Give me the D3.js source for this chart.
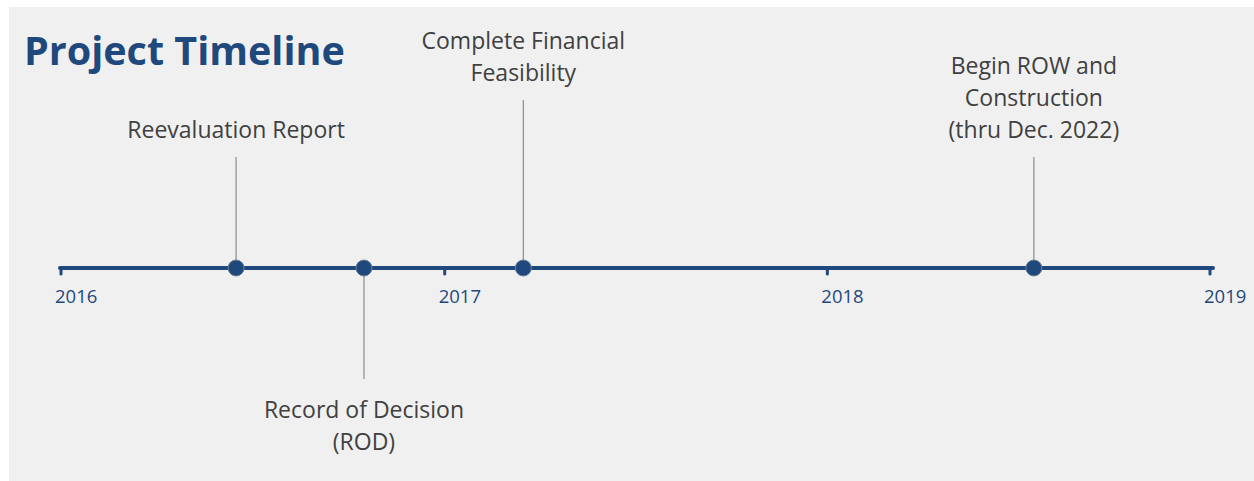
<!DOCTYPE html>
<html>
<head>
<meta charset="utf-8">
<script src="https://cdnjs.cloudflare.com/ajax/libs/d3/7.8.5/d3.min.js"></script>
<style>
  body { margin: 0; background: #fff; }
  svg { display: block; }
</style>
</head>
<body>
<script>
const width = 1254, height = 481;

// data
const title = "Project Timeline";
const years = [2016, 2017, 2018, 2019];
const eventDates = ["2016-06-16", "2016-10-16", "2017-03-17", "2018-07-17"];
const eventLabels = [
  ["Reevaluation Report"],
  ["Record of Decision", "(ROD)"],
  ["Complete Financial", "Feasibility"],
  ["Begin ROW and", "Construction", "(thru Dec. 2022)"]
];
const eventSide = ["up", "down", "up", "up"];
const stemLength = [105, 105, 162, 105];

const blue = "#1f497d";
const font = "'Open Sans', sans-serif";

const svg = d3.select("body").append("svg")
  .attr("width", width)
  .attr("height", height);

svg.append("rect")
  .attr("x", 9).attr("y", 7)
  .attr("width", width - 9).attr("height", height - 7)
  .attr("fill", "#f0f0f0");

svg.append("text")
  .attr("x", 24).attr("y", 65)
  .attr("fill", blue)
  .style("font-family", font)
  .style("font-weight", "bold")
  .style("font-size", "39.5px")
  .text(title);

const axisY = 268;
const x = d3.scaleTime()
  .domain([new Date(years[0], 0, 1), new Date(years[years.length - 1], 0, 1)])
  .range([61, 1210]);

// main line
svg.append("line")
  .attr("x1", x.range()[0] - 1).attr("x2", x.range()[1] + 3)
  .attr("y1", axisY).attr("y2", axisY)
  .attr("stroke", blue).attr("stroke-width", 4)
  .attr("stroke-linecap", "round");

const ticks = svg.append("g").selectAll("g")
  .data(years)
  .enter().append("g")
  .attr("transform", d => `translate(${x(new Date(d, 0, 1))},${axisY})`);

ticks.append("line")
  .attr("y1", 0).attr("y2", 6)
  .attr("stroke", blue).attr("stroke-width", 3)
  .attr("stroke-linecap", "round");

ticks.append("text")
  .attr("x", -6).attr("y", 35)
  .attr("fill", blue)
  .style("font-family", font)
  .style("font-size", "18.5px")
  .text(d => d);

const events = eventDates.map((d, i) => ({
  date: d3.timeParse("%Y-%m-%d")(d),
  lines: eventLabels[i],
  side: eventSide[i],
  len: stemLength[i]
}));

const ev = svg.append("g").selectAll("g")
  .data(events)
  .enter().append("g")
  .attr("transform", d => `translate(${x(d.date)},${axisY})`);

ev.append("line")
  .attr("x1", 0).attr("x2", 0)
  .attr("y1", d => d.side === "up" ? -6 : 6)
  .attr("y2", d => d.side === "up" ? -6 - d.len : 6 + d.len)
  .attr("stroke", "#8c8c8c").attr("stroke-width", 1.2);

ev.append("circle")
  .attr("r", 8)
  .attr("fill", blue)
  .attr("stroke", "#6f7f95").attr("stroke-width", 1);

const lineH = 32;
ev.each(function(d) {
  const g = d3.select(this);
  const n = d.lines.length;
  d.lines.forEach((t, j) => {
    let y;
    if (d.side === "up") y = -6 - d.len - 19 - (n - 1 - j) * lineH;
    else y = 6 + d.len + 39 + j * lineH;
    g.append("text")
      .attr("x", 0).attr("y", y)
      .attr("text-anchor", "middle")
      .attr("fill", "#404040")
      .style("font-family", font)
      .style("font-size", "23px")
      .text(t);
  });
});
</script>
</body>
</html>
